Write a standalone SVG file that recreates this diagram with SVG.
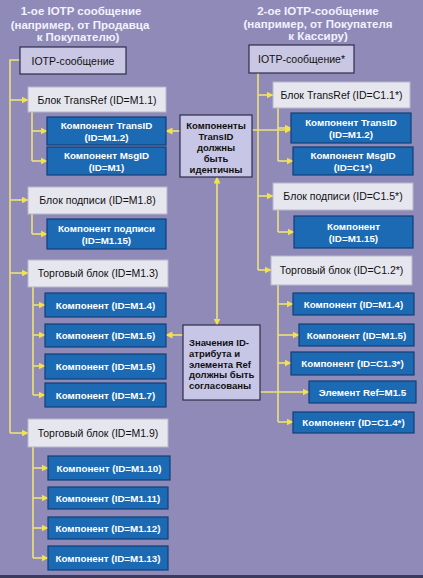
<svg xmlns="http://www.w3.org/2000/svg" width="423" height="578" viewBox="0 0 423 578">
<defs>
<marker id="ah" markerWidth="7" markerHeight="7" refX="6.5" refY="3.5" orient="auto-start-reverse" markerUnits="userSpaceOnUse">
<path d="M0,0 L7,3.5 L0,7 z" fill="#f3e24a"/>
</marker>
<style>
.ttl{font-family:"Liberation Sans",Arial,sans-serif;font-size:11.5px;font-weight:bold;fill:#f2f2ff;text-anchor:middle}
.lv{fill:#c9c7e3;stroke:#2e2c4a;stroke-width:1.2}
.wh{fill:#e6e6ef;stroke:#b8b6cc;stroke-width:1}
.bl{fill:#1c6ab4;stroke:#123f78;stroke-width:1.2}
.md{fill:#c8c6e6;stroke:#2e2c4a;stroke-width:1.2}
.tl{font-family:"Liberation Sans",Arial,sans-serif;font-size:10.5px;fill:#111;text-anchor:middle}
.tb{font-family:"Liberation Sans",Arial,sans-serif;font-size:9.8px;font-weight:bold;fill:#fff;text-anchor:middle}
.tm{font-family:"Liberation Sans",Arial,sans-serif;font-size:9.5px;font-weight:bold;fill:#111}
.ln{stroke:#ede27a;stroke-width:1.6;fill:none}
.ar{stroke:#ede27a;stroke-width:1.6;fill:none;marker-end:url(#ah)}
.ar2{stroke:#ede27a;stroke-width:1.6;fill:none;marker-end:url(#ah);marker-start:url(#ah)}
</style>
</defs>
<rect x="0" y="0" width="423" height="578" fill="#8f8ab7"/>
<rect x="0" y="575" width="423" height="3" fill="#3b3a5c"/>

<g id="titles">
<text class="ttl" x="81" y="15">1-ое IOTP сообщение</text>
<text class="ttl" x="80" y="29">(например, от Продавца</text>
<text class="ttl" x="78" y="41">к Покупателю)</text>
<text class="ttl" x="318" y="15">2-ое IOTP-сообщение</text>
<text class="ttl" x="318" y="28">(например, от Покупателя</text>
<text class="ttl" x="318" y="40">к Кассиру)</text>
</g>

<g id="connectors">
<path class="ln" d="M20,60 H10 V433"/>
<path class="ar" d="M10,100 H28"/>
<path class="ar" d="M10,200 H28"/>
<path class="ar" d="M10,273 H28"/>
<path class="ar" d="M10,433 H28"/>
<path class="ln" d="M32,112 V161"/>
<path class="ar" d="M32,131 H47"/>
<path class="ar" d="M32,161 H47"/>
<path class="ln" d="M32,214 V234"/>
<path class="ar" d="M32,234 H47"/>
<path class="ln" d="M33,287 V395"/>
<path class="ar" d="M33,305 H45"/>
<path class="ar" d="M33,335 H45"/>
<path class="ar" d="M33,366 H45"/>
<path class="ar" d="M33,395 H45"/>
<path class="ln" d="M33,447 V558"/>
<path class="ar" d="M33,468 H48"/>
<path class="ar" d="M33,498 H48"/>
<path class="ar" d="M33,528 H48"/>
<path class="ar" d="M33,558 H48"/>
<path class="ln" d="M258,73 V270"/>
<path class="ar" d="M258,95 H273"/>
<path class="ar" d="M258,196 H273"/>
<path class="ar" d="M258,270 H271"/>
<path class="ln" d="M278,108 V161"/>
<path class="ar" d="M278,128 H291"/>
<path class="ar" d="M278,161 H293"/>
<path class="ln" d="M278,210 V232"/>
<path class="ar" d="M278,232 H294"/>
<path class="ln" d="M278,285 V422"/>
<path class="ar" d="M278,304 H293"/>
<path class="ar" d="M278,335 H299"/>
<path class="ar" d="M278,363 H291"/>
<path class="ar" d="M278,422 H293"/>
<path class="ar" d="M180,131 H166"/>
<path class="ar" d="M252,130 H291"/>
<path class="ar2" d="M217,177 V325"/>
<path class="ar" d="M183,335 H166"/>
<path class="ar" d="M260,392 H309"/>
</g>

<g id="n-l0"><rect class="lv" x="20" y="47" width="106" height="27"/><text class="tl" x="73" y="64.5">IOTP-сообщение</text></g>
<g id="n-l1"><rect class="wh" x="28" y="87" width="138" height="25"/><text class="tl" x="97" y="103.5">Блок TransRef (ID=M1.1)</text></g>
<g id="n-l1a"><rect class="bl" x="47" y="117" width="119" height="28"/><text class="tb" x="106.5" y="129">Компонент TransID</text><text class="tb" x="106.5" y="141">(ID=M1.2)</text></g>
<g id="n-l1b"><rect class="bl" x="47" y="147" width="119" height="28"/><text class="tb" x="106.5" y="159">Компонент MsgID</text><text class="tb" x="106.5" y="171">(ID=M1)</text></g>
<g id="n-l2"><rect class="wh" x="28" y="187" width="139" height="27"/><text class="tl" x="97.5" y="204">Блок подписи (ID=M1.8)</text></g>
<g id="n-l2a"><rect class="bl" x="47" y="219" width="119" height="30"/><text class="tb" x="106.5" y="232">Компонент подписи</text><text class="tb" x="106.5" y="244">(ID=M1.15)</text></g>
<g id="n-l3"><rect class="wh" x="28" y="260" width="140" height="27"/><text class="tl" x="98" y="277">Торговый блок (ID=M1.3)</text></g>
<g id="n-l3a"><rect class="bl" x="45" y="293" width="121" height="24"/><text class="tb" x="105.5" y="308.5">Компонент  (ID=M1.4)</text></g>
<g id="n-l3b"><rect class="bl" x="45" y="324" width="121" height="23"/><text class="tb" x="105.5" y="339">Компонент  (ID=M1.5)</text></g>
<g id="n-l3c"><rect class="bl" x="45" y="354" width="121" height="25"/><text class="tb" x="105.5" y="370">Компонент  (ID=M1.5)</text></g>
<g id="n-l3d"><rect class="bl" x="45" y="383" width="121" height="24"/><text class="tb" x="105.5" y="398.5">Компонент  (ID=M1.7)</text></g>
<g id="n-l4"><rect class="wh" x="28" y="419" width="140" height="28"/><text class="tl" x="98" y="436.5">Торговый блок (ID=M1.9)</text></g>
<g id="n-l4a"><rect class="bl" x="48" y="456" width="122" height="24"/><text class="tb" x="109" y="471.5">Компонент  (ID=M1.10)</text></g>
<g id="n-l4b"><rect class="bl" x="48" y="487" width="120" height="22"/><text class="tb" x="108" y="501.5">Компонент  (ID=M1.11)</text></g>
<g id="n-l4c"><rect class="bl" x="48" y="517" width="120" height="22"/><text class="tb" x="108" y="531.5">Компонент  (ID=M1.12)</text></g>
<g id="n-l4d"><rect class="bl" x="48" y="546" width="120" height="24"/><text class="tb" x="108" y="561.5">Компонент  (ID=M1.13)</text></g>

<g id="n-r0"><rect class="lv" x="249" y="45" width="105" height="28"/><text class="tl" x="301.5" y="62.5">IOTP-сообщение*</text></g>
<g id="n-r1"><rect class="wh" x="273" y="82" width="137" height="26"/><text class="tl" x="341.5" y="99">Блок TransRef (ID=C1.1*)</text></g>
<g id="n-r1a"><rect class="bl" x="291" y="113" width="120" height="30"/><text class="tb" x="351" y="126">Компонент TransID</text><text class="tb" x="351" y="138">(ID=M1.2)</text></g>
<g id="n-r1b"><rect class="bl" x="293" y="147" width="120" height="28"/><text class="tb" x="353" y="159">Компонент MsgID</text><text class="tb" x="353" y="171">(ID=C1*)</text></g>
<g id="n-r2"><rect class="wh" x="273" y="183" width="140" height="27"/><text class="tl" x="343" y="200">Блок подписи (ID=C1.5*)</text></g>
<g id="n-r2a"><rect class="bl" x="294" y="216" width="119" height="32"/><text class="tb" x="353.5" y="230">Компонент</text><text class="tb" x="353.5" y="242">(ID=M1.15)</text></g>
<g id="n-r3"><rect class="wh" x="271" y="256" width="141" height="29"/><text class="tl" x="341.5" y="274">Торговый блок  (ID=C1.2*)</text></g>
<g id="n-r3a"><rect class="bl" x="293" y="293" width="121" height="22"/><text class="tb" x="353.5" y="307.5">Компонент  (ID=M1.4)</text></g>
<g id="n-r3b"><rect class="bl" x="299" y="324" width="115" height="22"/><text class="tb" x="356.5" y="338.5">Компонент  (ID=M1.5)</text></g>
<g id="n-r3c"><rect class="bl" x="291" y="352" width="123" height="23"/><text class="tb" x="352.5" y="367">Компонент  (ID=C1.3*)</text></g>
<g id="n-r3d"><rect class="bl" x="309" y="381" width="107" height="22"/><text class="tb" x="362.5" y="395.5">Элемент Ref=M1.5</text></g>
<g id="n-r3e"><rect class="bl" x="293" y="412" width="121" height="21"/><text class="tb" x="353.5" y="426">Компонент  (ID=C1.4*)</text></g>

<g id="n-m1"><rect class="md" x="180" y="115" width="72" height="62"/>
<text class="tm" x="216" y="129" text-anchor="middle">Компоненты</text>
<text class="tm" x="216" y="140" text-anchor="middle">TransID</text>
<text class="tm" x="216" y="151" text-anchor="middle">должны</text>
<text class="tm" x="216" y="162" text-anchor="middle">быть</text>
<text class="tm" x="216" y="173" text-anchor="middle">идентичны</text></g>
<g id="n-m2"><rect class="md" x="183" y="325" width="77" height="75"/>
<text class="tm" x="189" y="346">Значения ID-</text>
<text class="tm" x="189" y="357">атрибута и</text>
<text class="tm" x="189" y="367.5">элемента Ref</text>
<text class="tm" x="189" y="378">должны быть</text>
<text class="tm" x="189" y="389">согласованы</text></g>
</svg>
